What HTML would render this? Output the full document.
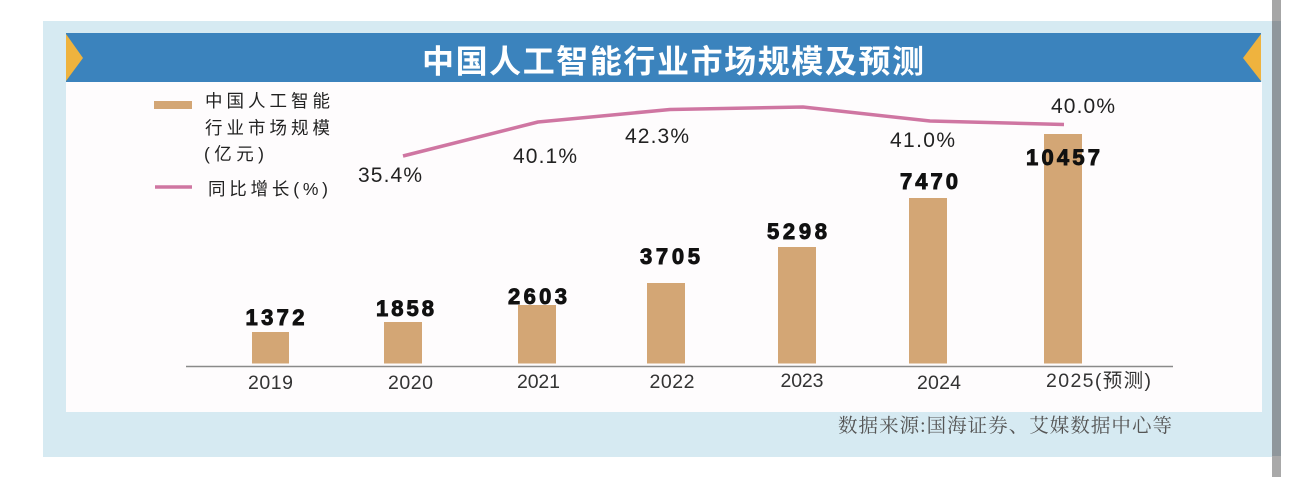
<!DOCTYPE html>
<html>
<head>
<meta charset="utf-8">
<style>
  html, body { margin: 0; padding: 0; background: #ffffff; }
  body { width: 1290px; height: 477px; overflow: hidden; }
  svg { display: block; }
  .cjk { font-family: "Liberation Sans", "Noto Sans CJK SC", sans-serif; }
  .serif { font-family: "Liberation Serif", "Noto Serif CJK SC", serif; }
  .num { font-family: "Liberation Sans", "Noto Sans CJK SC", sans-serif; }
</style>
</head>
<body>
<svg width="1290" height="477" viewBox="0 0 1290 477" xmlns="http://www.w3.org/2000/svg">
  <rect x="0" y="0" width="1290" height="477" fill="#ffffff"/>
  <rect x="43" y="21" width="1229" height="436" fill="#d6eaf2"/>
  <rect x="1272" y="0" width="9" height="21" fill="#a6a6a6"/>
  <rect x="1272" y="21" width="9" height="435" fill="#8f979c"/>
  <rect x="1272" y="456" width="9" height="21" fill="#a9a9a9"/>

  <rect x="66" y="82" width="1196" height="330" fill="#fefcfd"/>

  <rect x="66" y="33" width="1195" height="49" fill="#3b83bd"/>
  <polygon points="66,34 83,58 66,81" fill="#efb33e"/>
  <polygon points="1261,34 1243,58 1261,81" fill="#efb33e"/>
  <text x="422" y="72.5" class="cjk" font-size="32" font-weight="bold" fill="#ffffff" textLength="502" lengthAdjust="spacing">中国人工智能行业市场规模及预测</text>

  <!-- legend -->
  <rect x="154" y="101" width="38" height="8" fill="#d3a675"/>
  <text x="205" y="107" class="cjk" font-size="17.5" fill="#222" textLength="125" lengthAdjust="spacing">中国人工智能</text>
  <text x="205" y="134" class="cjk" font-size="17.5" fill="#222" textLength="125" lengthAdjust="spacing">行业市场规模</text>
  <text x="204" y="160" class="cjk" font-size="17.5" fill="#222" textLength="60" lengthAdjust="spacing">(亿元)</text>
  <line x1="155" y1="187" x2="192" y2="187" stroke="#cf76a2" stroke-width="3.5"/>
  <text x="208" y="195" class="cjk" font-size="17.5" fill="#222" textLength="120" lengthAdjust="spacing">同比增长(%)</text>

  <!-- bars -->
  <g fill="#d3a675">
    <rect x="252" y="332" width="37" height="31.5"/>
    <rect x="384" y="322" width="38" height="41.5"/>
    <rect x="518" y="305" width="38" height="58.5"/>
    <rect x="647" y="283" width="38" height="80.5"/>
    <rect x="778" y="247" width="38" height="116.5"/>
    <rect x="909" y="198" width="38" height="165.5"/>
    <rect x="1044" y="134" width="38" height="229.5"/>
  </g>

  <line x1="186" y1="366.5" x2="1173" y2="366.5" stroke="#8a8a8a" stroke-width="1.5"/>

  <polyline points="403,156 538,122 670,109.5 803,107 930,121 1064,124.5" fill="none" stroke="#cf76a2" stroke-width="3.5" stroke-linejoin="round"/>

  <!-- value labels -->
  <g class="num" font-size="22" font-weight="bold" fill="#111" text-anchor="middle" stroke="#111" stroke-width="0.9" lengthAdjust="spacing">
    <text x="275" y="325" textLength="59">1372</text>
    <text x="405" y="316" textLength="58">1858</text>
    <text x="537.5" y="304" textLength="59">2603</text>
    <text x="670" y="264" textLength="60">3705</text>
    <text x="797" y="239" textLength="60">5298</text>
    <text x="929" y="189" textLength="58">7470</text>
    <text x="1063" y="165" textLength="74">10457</text>
  </g>

  <!-- percent labels -->
  <g class="num" font-size="21" fill="#222" text-anchor="middle">
    <text x="390" y="182" textLength="64">35.4%</text>
    <text x="545" y="163" textLength="64">40.1%</text>
    <text x="657" y="143" textLength="64">42.3%</text>
    <text x="922.5" y="147" textLength="65">41.0%</text>
    <text x="1083" y="113" textLength="64">40.0%</text>
  </g>

  <!-- year labels -->
  <g class="cjk" font-size="19.5" fill="#333" text-anchor="middle">
    <text x="270.5" y="389" textLength="45">2019</text>
    <text x="410.5" y="389" textLength="45">2020</text>
    <text x="538.5" y="388" textLength="43">2021</text>
    <text x="672" y="388" textLength="45">2022</text>
    <text x="802" y="387" textLength="43">2023</text>
    <text x="939" y="389" textLength="44">2024</text>
    <text x="1098.5" y="387" textLength="105">2025(预测)</text>
  </g>

  <text x="838" y="432" class="serif" font-size="19.5" fill="#555" textLength="334" lengthAdjust="spacing">数据来源:国海证券、艾媒数据中心等</text>
</svg>
</body>
</html>
